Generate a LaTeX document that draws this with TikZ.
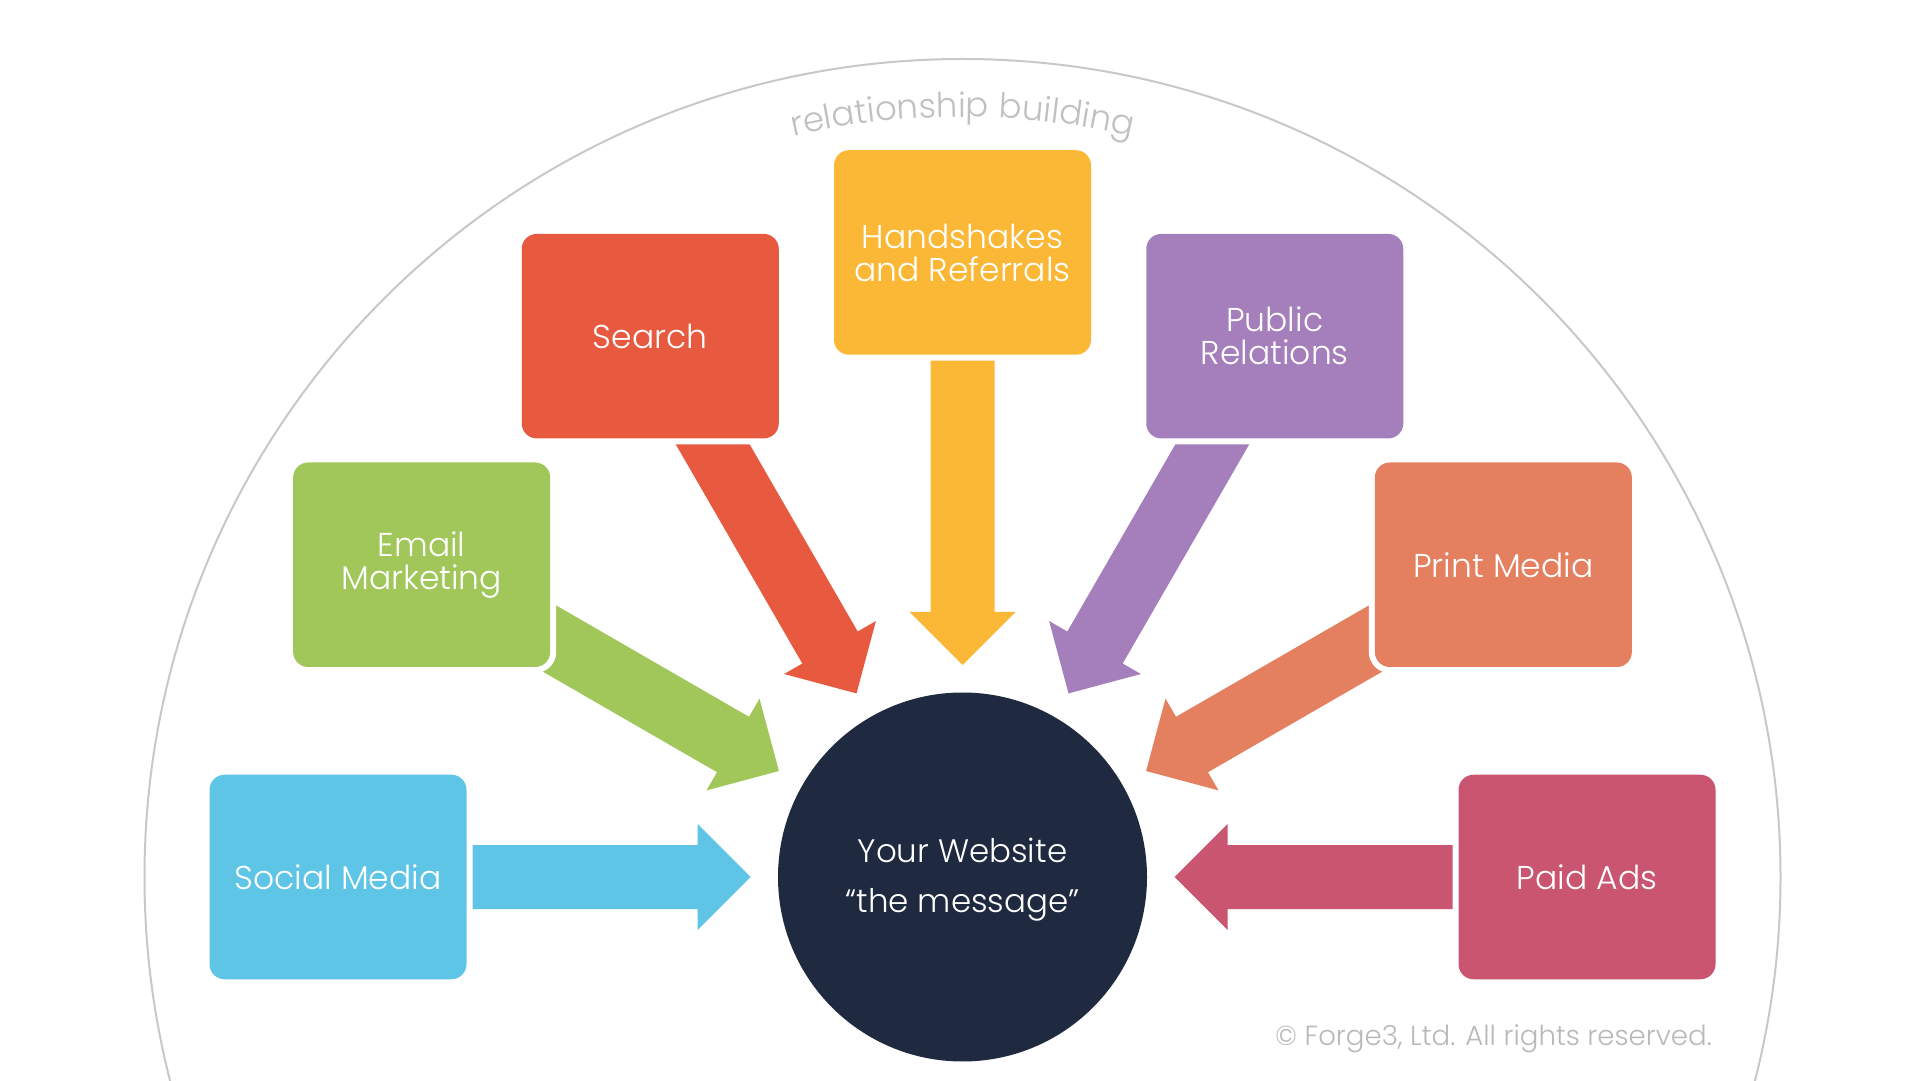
\documentclass[tikz,border=0pt]{standalone}
\usepackage{fontspec}
\setmainfont{Poppins}[UprightFont={* Light}]
\usetikzlibrary{calc,backgrounds,decorations.text}
\definecolor{cSoc}{RGB}{95,197,230}
\definecolor{cEmail}{RGB}{161,199,90}
\definecolor{cSearch}{RGB}{232,90,64}
\definecolor{cHand}{RGB}{251,183,54}
\definecolor{cPR}{RGB}{165,127,187}
\definecolor{cPrint}{RGB}{228,128,95}
\definecolor{cPaid}{RGB}{201,85,113}
\definecolor{cDark}{RGB}{31,42,64}
\definecolor{arcgray}{RGB}{200,200,200}
\definecolor{relgray}{RGB}{192,192,192}
\definecolor{cpgray}{RGB}{185,185,185}
\newcommand\bxfont{\fontsize{33}{33}\selectfont}
\newcommand\crcfont{\fontsize{32.5}{50}\selectfont}
\newcommand\relfont{\fontsize{34}{34}\selectfont}
\newcommand\cpfont{\fontsize{27.6}{27.6}\selectfont}
\begin{document}
\begin{tikzpicture}[x=1pt,y=1pt,
  box/.style={rounded corners=15pt, minimum width=257pt, minimum height=204.5pt,
    inner sep=0pt, outer sep=0pt, text=white, align=center, font=\bxfont,
    preaction={draw=white,line width=12pt}},
  hub/.style={circle, fill=cDark, minimum size=369pt, inner sep=0pt, outer sep=0pt,
    text=white, align=center, font=\crcfont}
]
\useasboundingbox (0,0) rectangle (1920,1080);

\node[hub] (web) at (962.5,203) {\raisebox{-4pt}{\begin{tabular}{@{}c@{}}Your Website\\“the message”\end{tabular}}};

\node[box, fill=cSoc]    (soc)    at ($(web.center)+(180:624.5pt)$) {Social Media};
\node[box, fill=cEmail]  (email)  at ($(web.center)+(150:624.5pt)$) {Email\\Marketing};
\node[box, fill=cSearch] (search) at ($(web.center)+(120:624.5pt)$) {Search};
\node[box, fill=cHand]   (hand)   at ($(web.center)+(90:624.5pt)$)  {Handshakes\\and Referrals};
\node[box, fill=cPR]     (pr)     at ($(web.center)+(60:624.5pt)$)  {Public\\Relations};
\node[box, fill=cPrint]  (print)  at ($(web.center)+(30:624.5pt)$)  {Print Media};
\node[box, fill=cPaid]   (paid)   at ($(web.center)+(0:624.5pt)$)   {Paid Ads};

\node[anchor=base east, text=cpgray, font=\cpfont, inner sep=0pt] (copy) at (1712,35)
  {© Forge3, Ltd. All rights reserved.};

\path[decorate, decoration={text along path, text align=center, text color=relgray,
  text={|\relfont|relationship building}}]
  ($(web.center)+(112:760pt)$) arc[start angle=112, end angle=68, radius=760pt];

\begin{pgfonlayer}{background}
  \fill[white] (0,0) rectangle (1920,1080);
  \begin{scope}
    \clip (0,0) rectangle (1920,1080);
    \draw[arcgray, line width=2pt] (web.center) circle[radius=818pt];
  \end{scope}
  \foreach \b/\col in {soc/cSoc, email/cEmail, search/cSearch, hand/cHand, pr/cPR, print/cPrint, paid/cPaid}{
    \coordinate (t) at ($(web.center)!212pt!(\b.center)$);
    \coordinate (h) at ($(web.center)!265pt!(\b.center)$);
    \coordinate (s) at ($(web.center)!560pt!(\b.center)$);
    \fill[\col] ($(s)!32pt!90:(web.center)$) -- ($(h)!32pt!90:(web.center)$)
      -- ($(h)!53pt!90:(web.center)$) -- (t) -- ($(h)!53pt!-90:(web.center)$)
      -- ($(h)!32pt!-90:(web.center)$) -- ($(s)!32pt!-90:(web.center)$) -- cycle;
  }
\end{pgfonlayer}
\end{tikzpicture}
\end{document}
